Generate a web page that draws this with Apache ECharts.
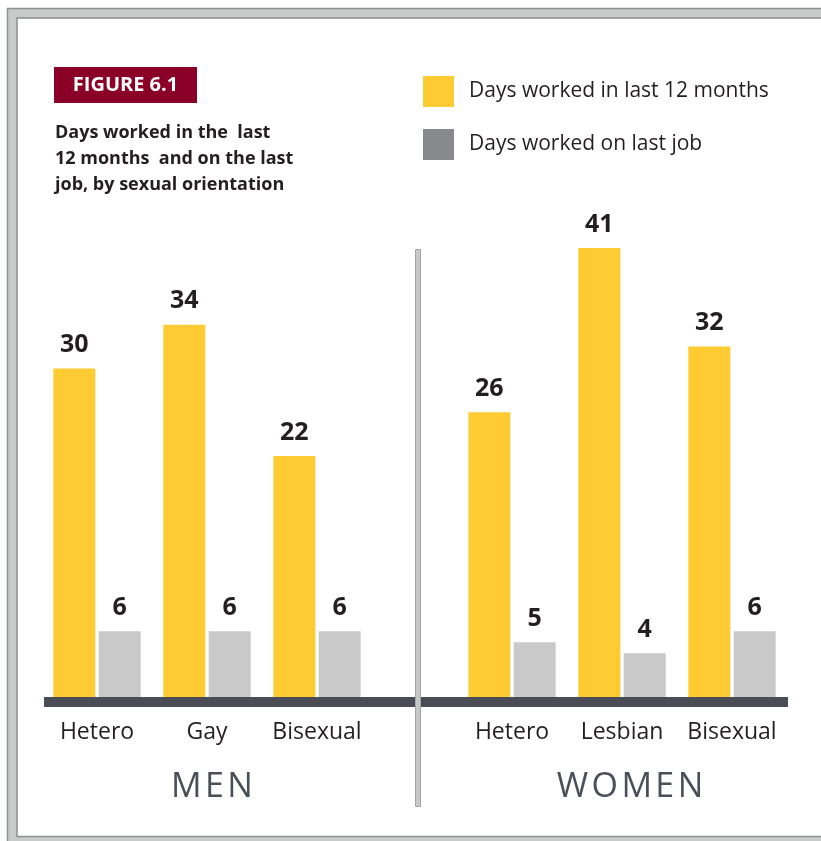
<!DOCTYPE html>
<html>
<head>
<meta charset="utf-8">
<script src="https://cdn.jsdelivr.net/npm/echarts@6/dist/echarts.min.js"></script>
<style>
html,body{margin:0;padding:0;background:#fff;}
#chart{width:821px;height:841px;}
</style>
</head>
<body>
<div id="chart"></div>
<script>
var menCategories = ['Hetero', 'Gay', 'Bisexual'];
var womenCategories = ['Hetero', 'Lesbian', 'Bisexual'];
var menLast12 = [30, 34, 22];
var menLastJob = [6, 6, 6];
var womenLast12 = [26, 41, 32];
var womenLastJob = [5, 4, 6];
var seriesNames = ['Days worked in last 12 months', 'Days worked on last job'];
var groupNames = ['MEN', 'WOMEN'];
var figureLabel = 'FIGURE 6.1';
var subtitleLines = ['Days worked in the  last', '12 months  and on the last', 'job, by sexual orientation'];

var YELLOW = '#fecb32';
var GREY = '#c8c9c8';
var LEGEND_GREY = '#88898c';
var DARK = '#231f20';
var FONT = '"Open Sans", "Noto Sans", sans-serif';

var chart = echarts.init(document.getElementById('chart'));

var gridTop = 149.5, gridHeight = 547.5;
var labelStyle = {show: true, position: 'top', distance: 11, fontSize: 25, fontWeight: 'bold', color: DARK, fontFamily: FONT};

function xAx(idx, cats) {
  return {
    type: 'category', gridIndex: idx, data: cats,
    axisLine: {show: false}, axisTick: {show: false},
    axisLabel: {interval: 0, fontSize: 23, fontWeight: 500, color: DARK, fontFamily: FONT, margin: 24}
  };
}
function yAx(idx) {
  return {type: 'value', gridIndex: idx, min: 0, max: 50, show: false, splitLine: {show: false}};
}
function bar(name, idx, data, color) {
  return {
    name: name, type: 'bar', xAxisIndex: idx, yAxisIndex: idx, data: data,
    barWidth: 42, barGap: '8%',
    itemStyle: {color: color}, label: labelStyle, silent: true
  };
}

var graphics = [
  // frame
  {type: 'rect', shape: {x: 12.5, y: 13.5, width: 900, height: 828}, style: {fill: null, stroke: '#c9cbcb', lineWidth: 10}, z: 1},
  {type: 'rect', shape: {x: 7.5, y: 8.5, width: 900, height: 838}, style: {fill: null, stroke: '#8f9192', lineWidth: 1.5}, z: 2},
  {type: 'rect', shape: {x: 17, y: 18, width: 900, height: 818.5}, style: {fill: null, stroke: '#8f9192', lineWidth: 1.5}, z: 2},
  // baseline
  {type: 'rect', shape: {x: 44, y: 697, width: 744, height: 10}, style: {fill: '#4a4d55'}, z: 5},
  // divider
  {type: 'rect', shape: {x: 415.5, y: 249.5, width: 5, height: 557}, style: {fill: '#c6c8c8', stroke: '#a3a5a5', lineWidth: 1}, z: 6},
  // figure label
  {type: 'rect', shape: {x: 54, y: 67, width: 143, height: 36}, style: {fill: '#8a0027'}, z: 5},
  {type: 'text', x: 125.5, y: 85.5, style: {text: figureLabel, fill: '#fff', font: 'bold 20px ' + FONT, align: 'center', verticalAlign: 'middle'}, z: 6},
  {type: 'text', x: 55, y: 120, style: {text: subtitleLines.join('\n'), fill: DARK, font: 'bold 18px ' + FONT, lineHeight: 26, align: 'left', verticalAlign: 'top'}, z: 6},
  // group names
  {type: 'text', x: 212, y: 787, style: {text: groupNames[0].split('').join('\u200A'), fill: '#4a4f58', font: '500 34px ' + FONT, align: 'center', verticalAlign: 'middle'}, z: 6},
  {type: 'text', x: 630, y: 787, style: {text: groupNames[1].split('').join('\u200A'), fill: '#4a4f58', font: '500 34px ' + FONT, align: 'center', verticalAlign: 'middle'}, z: 6}
];

chart.setOption({
  animation: false,
  backgroundColor: '#fff',
  legend: {
    orient: 'vertical', left: 423, top: 76, padding: 0,
    itemWidth: 31, itemHeight: 31, itemGap: 22, icon: 'rect',
    textStyle: {fontSize: 21, color: DARK, fontFamily: FONT, padding: [7, 0, 0, 10]},
    selectedMode: false,
    data: [
      {name: seriesNames[0], itemStyle: {color: YELLOW}},
      {name: seriesNames[1], itemStyle: {color: LEGEND_GREY}}
    ]
  },
  grid: [
    {left: 42, width: 330, top: gridTop, height: gridHeight},
    {left: 457, width: 330, top: gridTop, height: gridHeight}
  ],
  xAxis: [xAx(0, menCategories), xAx(1, womenCategories)],
  yAxis: [yAx(0), yAx(1)],
  series: [
    bar(seriesNames[0], 0, menLast12, YELLOW),
    bar(seriesNames[1], 0, menLastJob, GREY),
    bar(seriesNames[0], 1, womenLast12, YELLOW),
    bar(seriesNames[1], 1, womenLastJob, GREY)
  ],
  graphic: graphics
});
</script>
</body>
</html>
